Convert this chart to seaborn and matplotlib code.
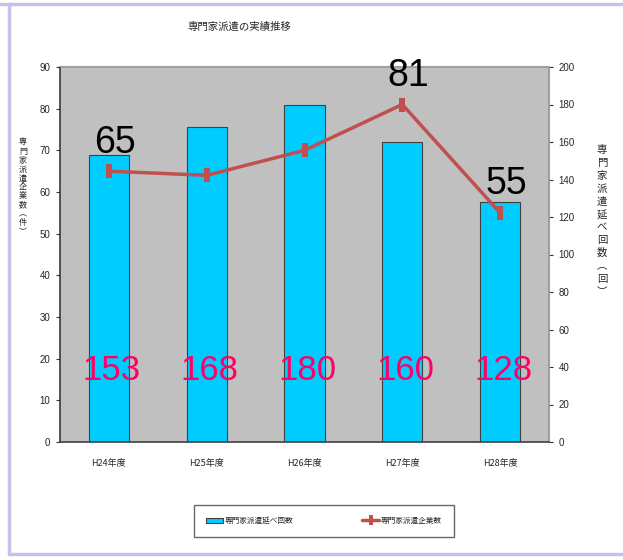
import numpy as np
import matplotlib
matplotlib.use("Agg")
import matplotlib.pyplot as plt
import seaborn as sns
from matplotlib.lines import Line2D
from matplotlib.patches import Patch

categories = ["H24年度", "H25年度", "H26年度", "H27年度", "H28年度"]
visits = [153, 168, 180, 160, 128]          # 専門家派遣延べ回数 (right axis)
companies = [65, 64, 70, 81, 55]            # 専門家派遣企業数 (left axis)
left_ticks = [0, 10, 20, 30, 40, 50, 60, 70, 80, 90]
right_ticks = [0, 20, 40, 60, 80, 100, 120, 140, 160, 180, 200]
labeled_points = [0, 3, 4]

title = "専門家派遣の実績推移"
left_label = "専門家派遣企業数︵件︶"
right_label = "専門家派遣延べ回数︵回︶"
legend_bar = "専門家派遣延べ回数"
legend_line = "専門家派遣企業数"

sns.set_theme(style="white")
plt.rcParams["font.family"] = ["Noto Sans CJK JP", "DejaVu Sans"]
NARROW = ["Liberation Sans Narrow", "Liberation Sans", "DejaVu Sans"]

fig = plt.figure(figsize=(6.23, 5.60), dpi=100)
ax = fig.add_axes([60/623, 1-442/560, 489/623, 375/560])
ax.set_facecolor("#C0C0C0")

sns.barplot(x=categories, y=visits, ax=ax, color="#00CCFF", width=0.41,
            edgecolor="#404040", linewidth=0.8, saturation=1)
ax.set_xlim(-0.5, len(categories) - 0.5)
ax.set_xlabel("")
ax.set_ylabel("")

ax2 = ax.twinx()

# bar axis (0-200) on the right
ax.set_ylim(0, 200)
ax.yaxis.tick_right()
ax.set_yticks(right_ticks)
ax.set_yticklabels([str(t) for t in right_ticks], family=NARROW, fontsize=7)
ax.tick_params(axis="y", which="both", direction="out", length=3, width=0.8,
               color="#333333", pad=4, left=False, right=True,
               labelleft=False, labelright=True)
ax.set_xticks(range(len(categories)))
ax.set_xticklabels(categories, fontsize=6.5)
ax.tick_params(axis="x", length=0, pad=12)
ax.set_xticks(np.arange(-0.5, len(categories), 1.0), minor=True)
ax.tick_params(axis="x", which="minor", direction="out", length=3, color="#808080")
for s in ["top", "right"]:
    ax.spines[s].set_color("#A0A0A0")
    ax.spines[s].set_linewidth(1.5)
ax.spines["left"].set_color("#404040")
ax.spines["bottom"].set_color("#404040")
ax.spines["bottom"].set_linewidth(1.2)

for i, v in enumerate(visits):
    ax.text(i + 0.03, 38, str(v), color="#FF0066", fontsize=25, family=NARROW,
            ha="center", va="center", zorder=5)

# line axis (0-90) on the left
marker = [(-0.5, -1), (0.5, -1), (0.5, 1), (-0.5, 1)]
sns.lineplot(x=np.arange(len(categories)), y=companies, ax=ax2, color="#C0504D",
             linewidth=2.5, marker=marker, markersize=10, markeredgewidth=0,
             markerfacecolor="#C0504D")
ax2.set_ylim(0, 90)
ax2.yaxis.tick_left()
ax2.set_yticks(left_ticks)
ax2.set_yticklabels([str(t) for t in left_ticks], family=NARROW, fontsize=7)
ax2.tick_params(axis="y", direction="out", length=3, width=0.8, color="#333333",
                pad=4, left=True, right=False, labelleft=True, labelright=False)
ax2.set_ylabel("")
for s in ax2.spines.values():
    s.set_visible(False)

for i in labeled_points:
    ax2.text(i + 0.06, companies[i] + 2.5, str(companies[i]), color="black",
             fontsize=27, family=NARROW, ha="center", va="bottom")

fig.text(239/623, 1-27/560, title, ha="center", va="center", fontsize=7.5)
fig.text(23/623, 1-187/560, "\n".join(left_label), ha="center", va="center",
         fontsize=5.8, linespacing=1.0)
fig.text(602/623, 1-221/560, "\n".join(right_label), ha="center", va="center",
         fontsize=7.5, linespacing=1.35)

handles = [Patch(facecolor="#00CCFF", edgecolor="#404040", linewidth=0.8),
           Line2D([], [], color="#C0504D", linewidth=2.5, marker=marker,
                  markersize=7, markeredgewidth=0)]
leg = fig.legend(handles, [legend_bar, legend_line], loc="center",
                 bbox_to_anchor=(324/623, 1-521/560), ncol=2, fontsize=5.5,
                 frameon=True, fancybox=False, borderpad=1.6, columnspacing=9,
                 handlelength=2.2, handletextpad=0.2, borderaxespad=0)
leg.get_frame().set_edgecolor("#404040")
leg.get_frame().set_linewidth(1.0)
leg.get_frame().set_boxstyle("square", pad=0)

border = "#C8C0E8"
fig.add_artist(Line2D([0, 1], [1-4/560, 1-4/560], color=border, linewidth=2.5))
fig.add_artist(Line2D([9/623, 9/623], [1-554/560, 1-4/560], color=border, linewidth=2.5))
fig.add_artist(Line2D([9/623, 1], [1-554/560, 1-554/560], color=border, linewidth=2.5))

fig.savefig("out.png", dpi=100)
